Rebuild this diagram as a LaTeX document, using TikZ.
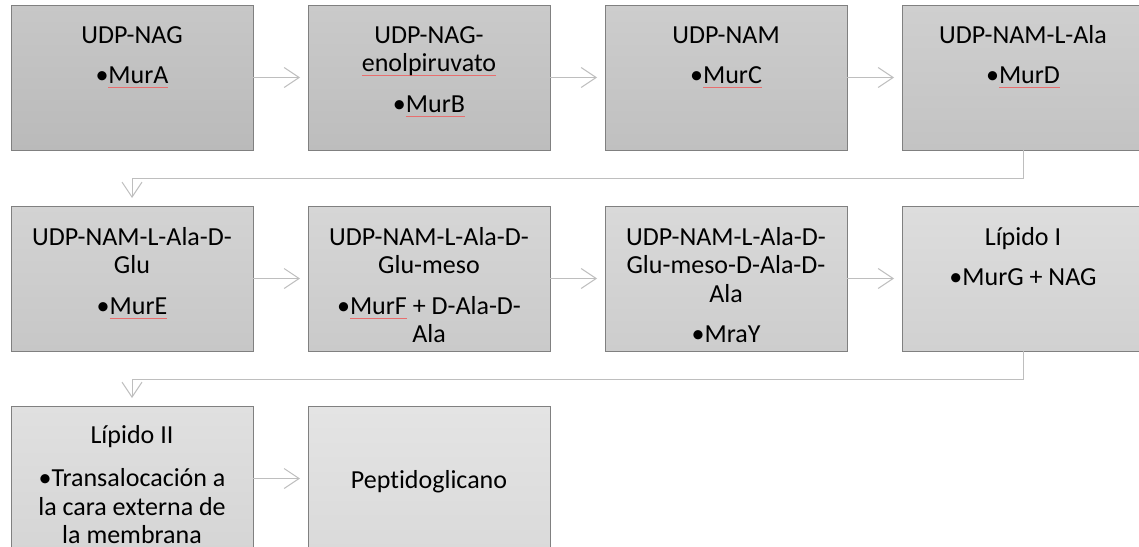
\documentclass[tikz,border=0pt]{standalone}
\usepackage{fontspec}
\setmainfont{Carlito}[Ligatures=NoCommon]
\usetikzlibrary{arrows.meta}
\definecolor{conn}{RGB}{190,190,190}
\definecolor{edge}{RGB}{128,128,128}
\definecolor{splred}{RGB}{232,110,110}
\definecolor{ta}{RGB}{199,199,199}\definecolor{ua}{RGB}{186,186,186}
\definecolor{tb}{RGB}{202,202,202}\definecolor{ub}{RGB}{189,189,189}
\definecolor{tc}{RGB}{205,205,205}\definecolor{uc}{RGB}{192,192,192}
\definecolor{td}{RGB}{207,207,207}\definecolor{ud}{RGB}{195,195,195}
\definecolor{te}{RGB}{211,211,211}\definecolor{ue}{RGB}{199,199,199}
\definecolor{tf}{RGB}{214,214,214}\definecolor{uf}{RGB}{202,202,202}
\definecolor{tg}{RGB}{217,217,217}\definecolor{ug}{RGB}{205,205,205}
\definecolor{th}{RGB}{221,221,221}\definecolor{uh}{RGB}{209,209,209}
\definecolor{ti}{RGB}{224,224,224}\definecolor{ui}{RGB}{213,213,213}
\definecolor{tj}{RGB}{228,228,228}\definecolor{uj}{RGB}{218,218,218}
\newcommand\spl[1]{\setbox0\hbox{#1}\rlap{\color{splred}\rule[-4.5pt]{\wd0}{1pt}}\box0\relax}
\tikzset{
  pbox/.style args={#1/#2}{draw=edge, line width=1pt, minimum width=242pt, minimum height=145pt,
    inner sep=0pt, outer sep=0pt, anchor=north west, top color=#1, bottom color=#2},
  txt/.style={anchor=north, align=center, inner sep=0pt, font=\fontsize{26}{28.5}\selectfont},
  arr/.style={draw=conn, line width=1pt, -{Straight Barb[length=15pt,width=20pt]}},
}
\begin{document}
\begin{tikzpicture}[x=1pt,y=-1pt]
\clip (0,0) rectangle (1139,546);
% row 1
\node[pbox={ta/ua}] (b1) at (11,5) {};
\node[pbox={tb/ub}] (b2) at (308,5) {};
\node[pbox={tc/uc}] (b3) at (605,5) {};
\node[pbox={td/ud}] (b4) at (902,5) {};
% row 2
\node[pbox={te/ue}] (b5) at (11,206) {};
\node[pbox={tf/uf}] (b6) at (308,206) {};
\node[pbox={tg/ug}] (b7) at (605,206) {};
\node[pbox={th/uh}] (b8) at (902,206) {};
% row 3
\node[pbox={ti/ui}] (b9) at (11,406) {};
\node[pbox={tj/uj}] (b10) at (308,406) {};
% texts
\node[txt] (t1) at ([yshift=-16pt]b1.north) {\rule{0pt}{22pt}UDP-NAG\\[12pt]•\spl{MurA}};
\node[txt] (t2) at ([yshift=-16pt]b2.north) {\rule{0pt}{22pt}UDP-NAG-\\\spl{enolpiruvato}\\[12pt]•\spl{MurB}};
\node[txt] (t3) at ([yshift=-16pt]b3.north) {\rule{0pt}{22pt}UDP-NAM\\[12pt]•\spl{MurC}};
\node[txt] (t4) at ([yshift=-16pt]b4.north) {\rule{0pt}{22pt}UDP-NAM-L-Ala\\[12pt]•\spl{MurD}};
\node[txt] (t5) at ([yshift=-17pt]b5.north) {\rule{0pt}{22pt}UDP-NAM-L-Ala-D-\\Glu\\[12pt]•\spl{MurE}};
\node[txt] (t6) at ([yshift=-17pt]b6.north) {\rule{0pt}{22pt}UDP-NAM-L-Ala-D-\\Glu-meso\\[12pt]•\spl{MurF} + D-Ala-D-\\Ala};
\node[txt] (t7) at ([yshift=-17pt]b7.north) {\rule{0pt}{22pt}UDP-NAM-L-Ala-D-\\Glu-meso-D-Ala-D-\\Ala\\[12pt]•MraY};
\node[txt] (t8) at ([yshift=-17pt]b8.north) {\rule{0pt}{22pt}Lípido I\\[12pt]•MurG + NAG};
\node[txt] (t9) at ([yshift=-15pt]b9.north) {\rule{0pt}{22pt}Lípido II\\[15pt]•Transalocación a\\la cara externa de\\la membrana};
\node[txt, anchor=base] (t10) at ([yshift=-9.5pt]b10.center) {Peptidoglicano};
% connectors
\draw[arr, shorten >=8pt] (b1.east) -- (b2.west);
\draw[arr, shorten >=8pt] (b2.east) -- (b3.west);
\draw[arr, shorten >=8pt] (b3.east) -- (b4.west);
\draw[arr, shorten >=8pt] (b4.south) -- ++(0,28) -| (b5.north);
\draw[arr, shorten >=8pt] (b5.east) -- (b6.west);
\draw[arr, shorten >=8pt] (b6.east) -- (b7.west);
\draw[arr, shorten >=8pt] (b7.east) -- (b8.west);
\draw[arr, shorten >=8pt] (b8.south) -- ++(0,28) -| (b9.north);
\draw[arr, shorten >=8pt] (b9.east) -- (b10.west);
\end{tikzpicture}
\end{document}
